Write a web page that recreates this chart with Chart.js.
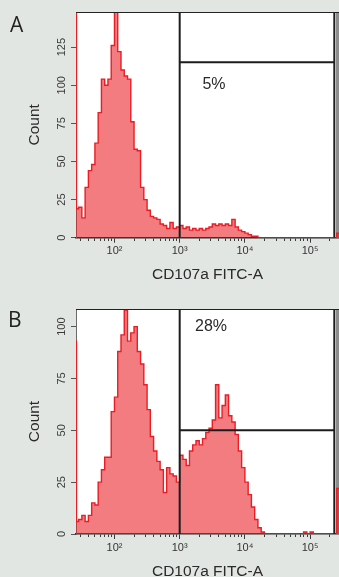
<!DOCTYPE html>
<html>
<head>
<meta charset="utf-8">
<script src="https://cdn.jsdelivr.net/npm/chart.js@4.4.0/dist/chart.umd.min.js"></script>
<style>
  html, body { margin: 0; padding: 0; overflow: hidden; }
  body { width: 339px; height: 577px; background: #e2e6e3; position: relative; font-family: 'Liberation Sans', Arial, sans-serif; }
  canvas { position: absolute; left: 0; }
  #chartA { top: 0; }
  #chartB { top: 290px; }
  .panel { position: absolute; font-family: 'Open Sans', sans-serif; font-size: 21px; line-height: 21px; color: #222; }
  .pct { position: absolute; font-size: 16px; line-height: 16px; color: #2a2a2a; transform: translate(-50%, -50%); white-space: nowrap; }
</style>
</head>
<body>
<canvas id="chartA" width="339" height="290"></canvas>
<canvas id="chartB" width="339" height="300"></canvas>
<div class="panel" style="left:10px;top:14px">A</div>
<div class="panel" style="left:8px;top:309px">B</div>
<div class="pct" style="left:214px;top:84px">5%</div>
<div class="pct" style="left:211px;top:326px">28%</div>
<script>
// bin positions in decades (log10 of channel); first = underflow pile-up, last = overflow
const binLog = [1.41,
    1.425, 1.475, 1.525, 1.575, 1.625, 1.675, 1.725, 1.775, 1.825, 1.875,
    1.925, 1.975, 2.025, 2.075, 2.125, 2.175, 2.225, 2.275, 2.325, 2.375,
    2.425, 2.475, 2.525, 2.575, 2.625, 2.675, 2.725, 2.775, 2.825, 2.875,
    2.925, 2.975, 3.025, 3.075, 3.125, 3.175, 3.225, 3.275, 3.325, 3.375,
    3.425, 3.475, 3.525, 3.575, 3.625, 3.675, 3.725, 3.775, 3.825, 3.875,
    3.925, 3.975, 4.025, 4.075, 4.125, 4.175, 4.225, 4.275, 4.325, 4.375,
    4.425, 4.475, 4.525, 4.575, 4.625, 4.675, 4.725, 4.775, 4.825, 4.875,
    4.925, 4.975, 5.025, 5.075, 5.125, 5.175, 5.225, 5.275, 5.325, 5.375,
    5.443];

// Panel A counts
const countsA = [160,
    19, 20, 13, 33, 44, 48, 62, 82, 104, 100,
    104, 126, 148, 122, 110, 106, 104, 76, 58, 57,
    33, 25, 18, 14, 13, 12, 9, 8, 6, 10,
    6, 7, 8, 6, 7, 5, 6, 5, 6, 5,
    6, 7, 9, 8, 9, 8, 9, 8, 12, 7,
    5, 4, 3, 2, 1, 1, 0, 0, 0, 0,
    0, 0, 0, 0, 0, 0, 0, 0, 0, 0,
    0, 0, 0, 0, 0, 0, 0, 0, 0, 0,
    3];

// Panel B counts
const countsB = [93,
    6, 7, 9, 6, 9, 15, 14, 25, 31, 37,
    37, 59, 66, 88, 96, 108, 93, 97, 100, 88,
    82, 72, 60, 47, 40, 35, 31, 20, 32, 29,
    28, 25, 38, 36, 33, 40, 43, 45, 43, 46,
    49, 51, 55, 72, 56, 62, 67, 57, 54, 48,
    40, 32, 25, 19, 13, 7, 3, 1, 0, 0,
    0, 0, 0, 0, 0, 0, 0, 0, 0, 0,
    1, 0, 1, 0, 0, 0, 0, 0, 0, 0,
    22];

const yTicksA = [0, 25, 50, 75, 100, 125];
const yTicksB = [0, 25, 50, 75, 100];
const yMaxA = 148, yMaxB = 108.5;

const xMajorTicks = [100, 1000, 10000, 100000];
const xMinorTicks = [30, 40, 50, 60, 70, 80, 90,
    200, 300, 400, 500, 600, 700, 800, 900,
    2000, 3000, 4000, 5000, 6000, 7000, 8000, 9000,
    20000, 30000, 40000, 50000, 60000, 70000, 80000, 90000,
    200000];
const xTickLabels = {100: '10²', 1000: '10³', 10000: '10⁴', 100000: '10⁵'};
const xMinLog = 1.41, xMaxLog = 5.443;

// gate: left/right edges and the horizontal marker level
const gateX = [1000, 235000];
const gateYA = 115, gateYB = 50;

const fontFamily = "'Liberation Sans', Arial, sans-serif";

// white plot area, grey right strip, thin top border
const framePlugin = {
    id: 'frame',
    beforeDraw(chart) {
        const {ctx, chartArea: a} = chart;
        ctx.save();
        ctx.fillStyle = '#ffffff';
        ctx.fillRect(a.left, a.top, a.right - a.left, a.bottom - a.top);
        ctx.restore();
    },
    beforeDatasetsDraw(chart) {
        const {ctx, chartArea: a} = chart;
        ctx.save();
        ctx.fillStyle = '#8d8d8d';
        ctx.fillRect(a.right - 3, a.top, 3, a.bottom - a.top);
        ctx.restore();
    },
    afterDatasetsDraw(chart) {
        const {ctx, chartArea: a} = chart;
        ctx.save();
        ctx.strokeStyle = '#222';
        ctx.lineWidth = 1;
        ctx.beginPath();
        ctx.moveTo(a.left, a.top + 0.5);
        ctx.lineTo(a.right, a.top + 0.5);
        ctx.stroke();
        ctx.restore();
    }
};

const makeChart = (id, counts, yTicks, yMax, gateY, geom) => {
    const histData = binLog.map((l, i) => ({x: Math.pow(10, l), y: counts[i]}));
    const gateData = [
        {x: gateX[0], y: 0}, {x: gateX[0], y: yMax}, {x: gateX[0], y: null},
        {x: gateX[0], y: gateY}, {x: gateX[1], y: gateY}, {x: gateX[1], y: null},
        {x: gateX[1], y: 0}, {x: gateX[1], y: yMax}
    ];

    return new Chart(document.getElementById(id), {
        type: 'line',
        data: {
            datasets: [
                {
                    data: gateData,
                    borderColor: '#1c1c1c',
                    borderWidth: 2,
                    pointRadius: 0,
                    fill: false,
                    spanGaps: false,
                    order: 0
                },
                {
                    data: histData,
                    stepped: 'middle',
                    borderColor: '#ea1c24',
                    borderWidth: 1.4,
                    backgroundColor: 'rgba(232, 30, 36, 0.58)',
                    fill: 'origin',
                    pointRadius: 0,
                    clip: 0,
                    order: 1
                }
            ]
        },
        options: {
            responsive: false,
            animation: false,
            events: [],
            layout: {padding: {top: geom.padTop, left: 0, right: 0, bottom: 0}},
            plugins: {legend: {display: false}, tooltip: {enabled: false}},
            scales: {
                x: {
                    type: 'logarithmic',
                    min: Math.pow(10, xMinLog),
                    max: Math.pow(10, xMaxLog),
                    bounds: 'data',
                    z: 1,
                    afterBuildTicks: s => {
                        s.ticks = xMajorTicks.concat(xMinorTicks).sort((a, b) => a - b).map(v => ({value: v}));
                    },
                    afterFit: s => { s.height = geom.xAxisHeight; },
                    grid: {
                        display: true,
                        drawOnChartArea: false,
                        drawTicks: true,
                        tickLength: 5,
                        tickColor: '#3a3a3a',
                        tickWidth: 1,
                        // minor ticks: only the first bit of the tick is drawn
                        tickBorderDash: c => (c.tick && xMajorTicks.includes(c.tick.value)) ? [] : [2.5, 10]
                    },
                    border: {color: '#2b2b2b', width: 1.5},
                    ticks: {
                        autoSkip: false,
                        minRotation: 0,
                        maxRotation: 0,
                        padding: 2,
                        color: '#333',
                        font: {family: fontFamily, size: 11},
                        callback: v => xTickLabels[v] || ''
                    },
                    title: {
                        display: true,
                        text: 'CD107a FITC-A',
                        color: '#2a2a2a',
                        font: {family: fontFamily, size: 15.5},
                        padding: {top: 0, bottom: geom.titlePadBottom}
                    }
                },
                y: {
                    min: 0,
                    max: yMax,
                    bounds: 'data',
                    afterBuildTicks: s => { s.ticks = yTicks.map(v => ({value: v})); },
                    afterFit: s => { s.width = 76; },
                    grid: {display: true, drawOnChartArea: false, tickLength: 5, tickColor: '#555'},
                    border: {color: '#6a6a6a', width: 1},
                    ticks: {
                        autoSkip: false,
                        minRotation: 90,
                        maxRotation: 90,
                        crossAlign: 'center',
                        padding: 0,
                        color: '#3a3a3a',
                        font: {family: fontFamily, size: 11}
                    },
                    title: {
                        display: true,
                        text: 'Count',
                        color: '#2a2a2a',
                        font: {family: fontFamily, size: 15.5},
                        padding: {top: 25.7, bottom: 0}
                    }
                }
            }
        },
        plugins: [framePlugin]
    });
};

makeChart('chartA', countsA, yTicksA, yMaxA, gateYA, {padTop: 12, xAxisHeight: 52.3, titlePadBottom: 5.7});
makeChart('chartB', countsB, yTicksB, yMaxB, gateYB, {padTop: 19, xAxisHeight: 56, titlePadBottom: 9.4});
</script>
</body>
</html>
